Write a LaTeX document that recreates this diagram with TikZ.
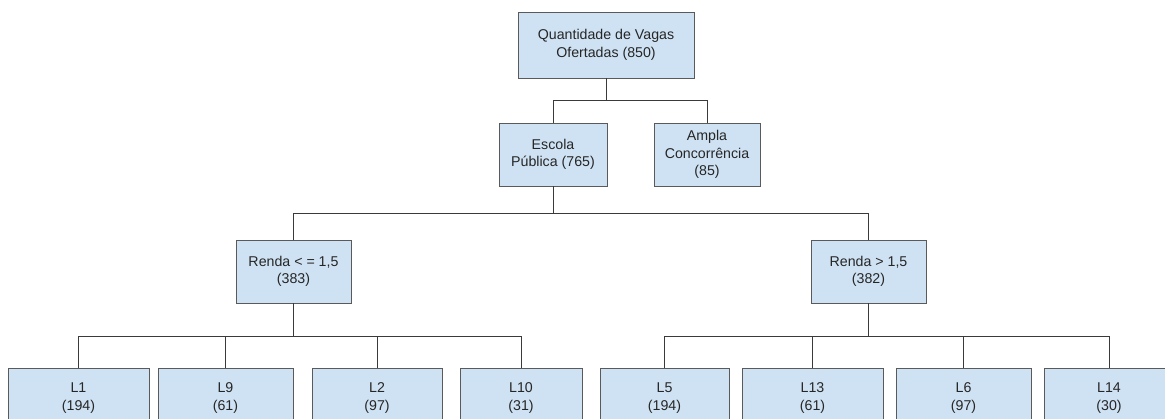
\documentclass[tikz,border=0pt]{standalone}
\usepackage{fontspec}
\setmainfont{Liberation Sans}
\definecolor{boxfill}{HTML}{CFE2F3}
\definecolor{boxline}{HTML}{5A5A5A}
\definecolor{wire}{HTML}{3A3A3A}
\begin{document}
\begin{tikzpicture}[x=1pt,y=-1pt,
  box/.style={draw=boxline,fill=boxfill,line width=0.9pt,inner sep=0pt,align=center,
    font=\fontsize{14.2}{17.5}\selectfont,text=black!85},
  wire/.style={draw=wire,line width=0.9pt}]
\useasboundingbox (0,0) rectangle (1165,418);
\node[box,minimum width=176,minimum height=66] (root) at (606,45) {Quantidade de Vagas\\Ofertadas (850)};
\node[box,minimum width=108,minimum height=63] (esc) at (553,154.5) {Escola\\Pública (765)};
\node[box,minimum width=106,minimum height=63] (amp) at (707,154.5) {Ampla\\Concorrência\\(85)};
\node[box,minimum width=115,minimum height=63] (rl) at (293.5,271.5) {Renda < = 1,5\\(383)};
\node[box,minimum width=115,minimum height=63] (rg) at (868.5,271.5) {Renda > 1,5\\(382)};
\node[box,minimum width=141,minimum height=60] (l1) at (78.5,398) {L1\\(194)};
\node[box,minimum width=135,minimum height=60] (l9) at (225.5,398) {L9\\(61)};
\node[box,minimum width=130,minimum height=60] (l2) at (377,398) {L2\\(97)};
\node[box,minimum width=122,minimum height=60] (l10) at (521,398) {L10\\(31)};
\node[box,minimum width=129,minimum height=60] (l5) at (664.5,398) {L5\\(194)};
\node[box,minimum width=141,minimum height=60] (l13) at (812.5,398) {L13\\(61)};
\node[box,minimum width=135,minimum height=60] (l6) at (963.5,398) {L6\\(97)};
\node[box,minimum width=130,minimum height=60] (l14) at (1109,398) {L14\\(30)};
\draw[wire] (root.south) -- ++(0,22) -| (esc.north);
\draw[wire] (root.south) -- ++(0,22) -| (amp.north);
\draw[wire] (esc.south) -- ++(0,27) -| (rl.north);
\draw[wire] (esc.south) -- ++(0,27) -| (rg.north);
\foreach \n in {l1,l9,l2,l10}{\draw[wire] (rl.south) -- ++(0,33) -| (\n.north);}
\foreach \n in {l5,l13,l6,l14}{\draw[wire] (rg.south) -- ++(0,33) -| (\n.north);}
\end{tikzpicture}
\end{document}
